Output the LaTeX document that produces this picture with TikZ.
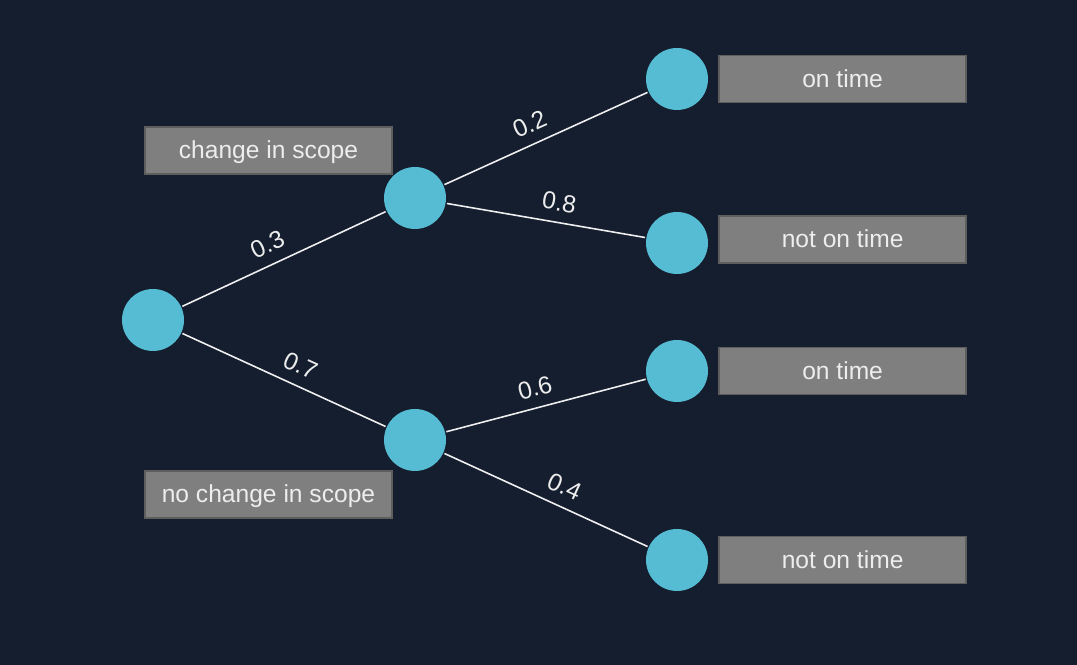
\documentclass[tikz,border=0pt]{standalone}
\usepackage{fontspec}
\setmainfont{Liberation Sans}
\usepackage{tikz}
\usetikzlibrary{calc,positioning}
\definecolor{bgnavy}{HTML}{141E2E}
\definecolor{chancecyan}{HTML}{56BCD3}
\definecolor{boxgray}{HTML}{7F7F7F}
\definecolor{boxedge}{HTML}{5E5E5E}
\definecolor{labeltext}{HTML}{EDEDED}

\begin{document}
\begin{tikzpicture}[auto,
                    thick,
                    node distance=0.09cm,inner sep=2pt,
                    chance/.style={circle,fill=chancecyan,minimum size=0.62cm,inner sep=0pt},
                    outcome/.style={rectangle,fill=boxgray,draw=boxedge,line width=0.4pt,
                                    minimum width=2.47cm,minimum height=0.47cm,
                                    text height=4.8pt,text depth=0pt,
                                    text=labeltext,font=\fontsize{7}{8}\selectfont}]
\fill[bgnavy] (0,0) rectangle (10.77,-6.65);
\useasboundingbox (0,0) rectangle (10.77,-6.65);
\begin{scope}
\node[chance] (r) at (1.53, -3.20)                {};
\node[chance] (a) at ($ (r) + ( 2.62,  1.22) $) {};
\node[chance] (b) at ($ (r) + ( 2.62, -1.20) $) {};
\node[chance] (a1) at ($ (a) + ( 2.62,  1.19) $) {};
\node[chance] (a2) at ($ (a) + ( 2.62, -0.45) $) {};
\node[chance] (b1) at ($ (b) + ( 2.62,  0.69) $) {};
\node[chance] (b2) at ($ (b) + ( 2.62, -1.20) $) {};
%
\path[draw=labeltext!90,line width=0.45pt,
      every node/.style={sloped,text=labeltext,font=\fontsize{7}{8}\selectfont,inner sep=3pt}]
  (r) edge node[pos=0.46] {0.3} (a)
  (r) edge node[pos=0.54] {0.7} (b)
  (a) edge node[pos=0.46] {0.2} (a1)
  (a) edge node[pos=0.55] {0.8} (a2)
  (b) edge node[pos=0.47] {0.6} (b1)
  (b) edge node[pos=0.55] {0.4} (b2)
  ;
\end{scope}
%
\node[outcome] (ta)  at ($ (a) + (-1.465,  0.475) $) {change in scope};
\node[outcome] (tb)  at ($ (b) + (-1.465, -0.545) $) {no change in scope};
\node[outcome,right=of a1] (ta1) {on time};
\node[outcome,right=of a2,yshift=0.035cm] (ta2) {not on time};
\node[outcome,right=of b1] (tb1) {on time};
\node[outcome,right=of b2] (tb2) {not on time};
\end{tikzpicture}
\end{document}
